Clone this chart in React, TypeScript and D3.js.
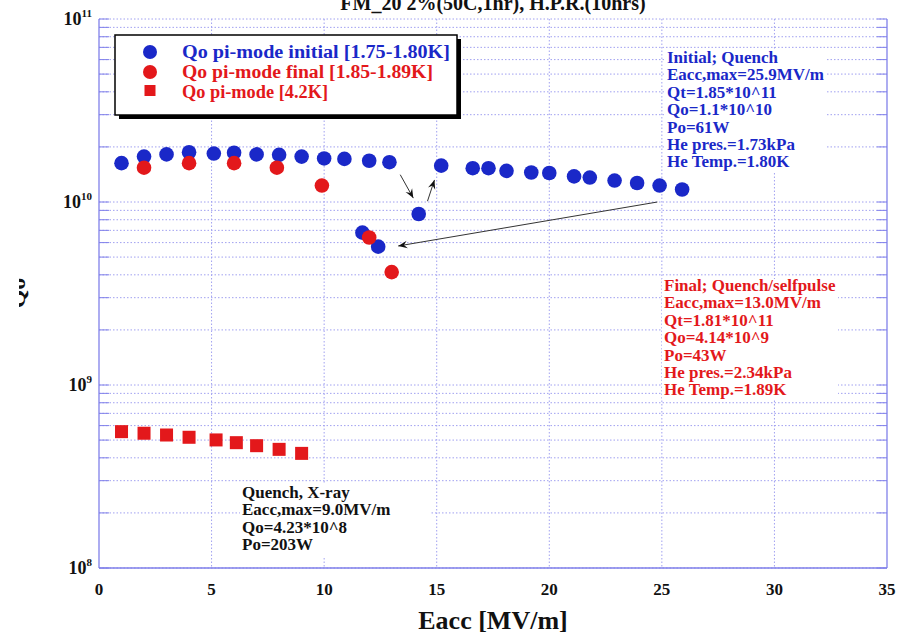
import React from "react";
import * as d3 from "d3";

// Qo vs Eacc, pi-mode, initial run at 1.75-1.80K
const initialEacc = [1.0, 2.0, 3.0, 4.0, 5.1, 6.0, 7.0, 8.0, 9.0, 10.0, 10.9, 12.0, 12.9, 14.2, 15.2, 16.6, 17.3, 18.1, 19.2, 20.0, 21.1, 21.8, 22.9, 23.9, 24.9, 25.9, 11.7, 12.4];
const initialQo = [1.63e10, 1.77e10, 1.82e10, 1.87e10, 1.84e10, 1.86e10, 1.82e10, 1.81e10, 1.77e10, 1.73e10, 1.72e10, 1.68e10, 1.65e10, 8.6e9, 1.58e10, 1.53e10, 1.53e10, 1.48e10, 1.45e10, 1.44e10, 1.38e10, 1.36e10, 1.31e10, 1.27e10, 1.23e10, 1.17e10, 6.8e9, 5.7e9];

// final run at 1.85-1.89K
const finalEacc = [2.0, 4.0, 6.0, 7.9, 9.9, 12.0, 13.0];
const finalQo = [1.54e10, 1.63e10, 1.63e10, 1.54e10, 1.23e10, 6.4e9, 4.14e9];

// 4.2K run
const helium42Eacc = [1.0, 2.0, 3.0, 4.0, 5.2, 6.1, 7.0, 8.0, 9.0];
const helium42Qo = [5.56e8, 5.45e8, 5.33e8, 5.18e8, 5.01e8, 4.84e8, 4.66e8, 4.45e8, 4.23e8];

const xTicks = [0, 5, 10, 15, 20, 25, 30, 35];
const yDecades = [8, 9, 10, 11];

const legendLabels = [
  "Qo pi-mode initial [1.75-1.80K]",
  "Qo pi-mode final [1.85-1.89K]",
  "Qo pi-mode [4.2K]",
];
const legendWidths = [268, 251, 146];

const initialNote = [
  "Initial; Quench",
  "Eacc,max=25.9MV/m",
  "Qt=1.85*10^11",
  "Qo=1.1*10^10",
  "Po=61W",
  "He pres.=1.73kPa",
  "He Temp.=1.80K",
];
const finalNote = [
  "Final; Quench/selfpulse",
  "Eacc,max=13.0MV/m",
  "Qt=1.81*10^11",
  "Qo=4.14*10^9",
  "Po=43W",
  "He pres.=2.34kPa",
  "He Temp.=1.89K",
];
const xrayNote = ["Quench, X-ray", "Eacc,max=9.0MV/m", "Qo=4.23*10^8", "Po=203W"];

// arrows: [x1, q1, x2, q2] in data units
const arrows = [
  [13.38, 1.41e10, 13.96, 1.05e10],
  [14.59, 1.01e10, 14.9, 1.32e10],
  [24.8, 1.0e10, 13.29, 5.75e9],
];

const W = 911;
const H = 644;
const left = 99;
const right = 887;
const top = 19;
const bottom = 568;

const BLUE = "#1a28c8";
const RED = "#e3181b";
const GRID = "#a0a0f0";
const FRAME = "#8080ea";
const FONT = "'Liberation Serif', 'DejaVu Serif', serif";

export default function App() {
  const x = d3.scaleLinear().domain([0, 35]).range([left, right]);
  const y = d3.scaleLog().domain([1e8, 1e11]).range([bottom, top]);

  const minor: number[] = [];
  for (let e = 8; e < 11; e++) {
    for (let m = 1; m <= 9; m++) minor.push(m * Math.pow(10, e));
  }
  minor.push(1e11);

  const noteBlock = (lines: string[], x0: number, y0: number, color: string) =>
    lines.map((t, i) => (
      <text key={i} x={x0} y={y0 + i * 17.4} fill={color} fontSize={17} fontWeight="bold" fontFamily={FONT}>
        {t}
      </text>
    ));

  return (
    <svg width={W} height={H} style={{ position: "absolute", left: 0, top: 0, background: "#fff" }}>
      <defs>
        <marker id="head" viewBox="-12 -6 14 12" markerWidth={12} markerHeight={10} refX={0} refY={0} orient="auto" markerUnits="userSpaceOnUse">
          <path d="M0,0 L-11,-4.5 L-7,0 L-11,4.5 Z" fill="#111" />
        </marker>
        <clipPath id="labelClip">
          <rect x={19} y={0} width={100} height={H} />
        </clipPath>
      </defs>

      {/* title */}
      <text x={493} y={10} textAnchor="middle" fontSize={20} fontWeight="bold" fontFamily={FONT} fill="#111">
        FM_20 2%(50C,1hr), H.P.R.(10hrs)
      </text>

      {/* horizontal grid */}
      {minor.map((v, i) => (
        <g key={i}>
          <line x1={left} x2={right} y1={y(v)} y2={y(v)} stroke={GRID} strokeWidth={1} strokeDasharray="1.5,2" />
          <line x1={left} x2={left + 10} y1={y(v)} y2={y(v)} stroke={FRAME} strokeWidth={1} />
          <line x1={right - 10} x2={right} y1={y(v)} y2={y(v)} stroke={FRAME} strokeWidth={1} />
        </g>
      ))}
      {/* vertical grid */}
      {xTicks.slice(1, -1).map((t) => (
        <line key={t} x1={x(t)} x2={x(t)} y1={top} y2={bottom} stroke={GRID} strokeWidth={1} strokeDasharray="1.5,2" />
      ))}
      {/* frame */}
      <line x1={left} x2={left} y1={top} y2={bottom} stroke={FRAME} strokeWidth={1.3} />
      <line x1={right} x2={right} y1={top} y2={bottom} stroke={FRAME} strokeWidth={1.3} />
      <line x1={left} x2={right} y1={bottom} y2={bottom} stroke={FRAME} strokeWidth={1.3} />

      {/* text panels */}
      <rect x={664} y={49} width={163} height={123} fill="#fff" />
      <rect x={662} y={279} width={176} height={121} fill="#fff" />
      <rect x={240} y={484} width={190} height={73} fill="#fff" />
      {noteBlock(initialNote, 667, 63, BLUE)}
      {noteBlock(finalNote, 664, 291, RED)}
      {noteBlock(xrayNote, 242, 498, "#111")}

      {/* x tick labels */}
      {xTicks.map((t) => (
        <text key={t} x={x(t)} y={595} textAnchor="middle" fontSize={17} fontWeight="bold" fontFamily={FONT} fill="#111">
          {t}
        </text>
      ))}
      {/* y tick labels */}
      {yDecades.map((e) => (
        <text key={e} x={92} y={y(Math.pow(10, e)) + 6} textAnchor="end" fontSize={18} fontWeight="bold" fontFamily={FONT} fill="#111">
          10
          <tspan dy={-8} fontSize={11}>
            {e}
          </tspan>
        </text>
      ))}

      {/* axis titles */}
      <text x={493} y={629} textAnchor="middle" fontSize={26} fontWeight="bold" fontFamily={FONT} fill="#111">
        Eacc [MV/m]
      </text>
      <g clipPath="url(#labelClip)">
        <text transform="translate(25,293) rotate(-90)" textAnchor="middle" fontSize={24} fontWeight="bold" fontFamily={FONT} fill="#111">
          Qo
        </text>
      </g>

      {/* arrows */}
      {arrows.map((a, i) => (
        <line key={i} x1={x(a[0])} y1={y(a[1])} x2={x(a[2])} y2={y(a[3])} stroke="#333" strokeWidth={1} markerEnd="url(#head)" />
      ))}

      {/* data */}
      {initialEacc.map((e, i) => (
        <circle key={"i" + i} cx={x(e)} cy={y(initialQo[i])} r={7.3} fill={BLUE} />
      ))}
      {finalEacc.map((e, i) => (
        <circle key={"f" + i} cx={x(e)} cy={y(finalQo[i])} r={7.3} fill={RED} />
      ))}
      {helium42Eacc.map((e, i) => (
        <rect key={"h" + i} x={x(e) - 6.5} y={y(helium42Qo[i]) - 6.5} width={13} height={13} fill={RED} />
      ))}

      {/* legend */}
      <rect x={119} y={39} width={342} height={80} fill="#000" />
      <rect x={115} y={35} width={342} height={80} fill="#fff" stroke="#000" strokeWidth={1.5} />
      <circle cx={150} cy={52} r={7} fill={BLUE} />
      <circle cx={150} cy={72} r={7} fill={RED} />
      <rect x={144.5} y={85} width={11} height={11} fill={RED} />
      {legendLabels.map((t, i) => (
        <text
          key={t}
          x={182}
          y={58 + i * 20}
          fontSize={18.5}
          fontWeight="bold"
          fontFamily={FONT}
          fill={i === 0 ? BLUE : RED}
          textLength={legendWidths[i]}
          lengthAdjust="spacingAndGlyphs"
        >
          {t}
        </text>
      ))}
    </svg>
  );
}
